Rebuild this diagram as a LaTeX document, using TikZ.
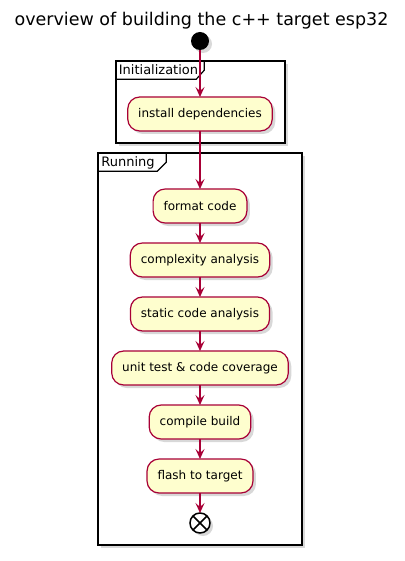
\documentclass[tikz,border=0pt]{standalone}
\usepackage{fontspec}
\setmainfont{DejaVu Sans}
\usetikzlibrary{arrows.meta, shadows, calc, positioning}
\definecolor{umlred}{HTML}{A80036}
\definecolor{umlfill}{HTML}{FEFECE}
\tikzset{> = { Stealth[length = 10pt, width = 9pt, inset = 4pt] }}
\tikzset{umlshadow/.style = { drop shadow = {shadow xshift=3pt,shadow yshift=-3pt,opacity=0.3} }}

\begin{document}
\begin{tikzpicture}[x = 1pt, y = -1pt, ->, draw = umlred, line width = 1.2pt, activity/.style = { draw = umlred, fill = umlfill, line width = 1.2pt, outer sep = 0pt, rounded corners = 12pt, minimum height = 34pt, inner xsep = 10.5pt, font = \fontsize{12}{14}\selectfont, umlshadow }, partition/.style = { draw = black, fill = white, line width = 1.5pt, inner sep = 0pt, umlshadow }, tab/.style = { -, draw = black, line width = 1.2pt }, tabname/.style = { anchor = base west, inner sep = 0pt, font = \fontsize{13}{15}\selectfont }]
				\useasboundingbox (0,0) rectangle (404,561);

				\node [anchor = base, font = \fontsize{17.5}{20}\selectfont] (title) at (201.5,26) {overview of building the c++ target esp32};

				\node [partition, minimum width = 169pt, minimum height = 82pt] (init) at (200.5,102) {};
				\node [partition, minimum width = 204pt, minimum height = 392pt] (run) at (200,349) {};
				\node [tabname] (initname) at ($(init.north west) + (3,14)$) {Initialization};
				\node [tabname] (runname) at ($(run.north west) + (3.5,14)$) {Running};
				\draw [tab] ($(init.north west) + (0,19)$) -- ++(81,0) -- ++(8,-9) -- ++(0,-10);
				\draw [tab] ($(run.north west) + (0,19)$) -- ++(60,0) -- ++(9,-9) -- ++(0,-10);

				\node [circle, fill = black, minimum size = 18pt, inner sep = 0pt, outer sep = 0pt, umlshadow] (start) at (200,41) {};
				\node [activity, below = 47pt of start] (install) {install dependencies};
				\node [activity, below = 58pt of install] (format) {format code};
				\node [activity, below = 20pt of format] (complexity) {complexity analysis};
				\node [activity, below = 20pt of complexity] (static) {static code analysis};
				\node [activity, below = 20pt of static] (unittest) {unit test \& code coverage};
				\node [activity, below = 20pt of unittest] (compile) {compile build};
				\node [activity, below = 20pt of compile] (flash) {flash to target};
				\node [circle, draw = black, fill = white, line width = 1.5pt, minimum size = 20pt, inner sep = 0pt, outer sep = 0pt, below = 20pt of flash, umlshadow] (stop) {};
				\draw [-, black, line width = 1.5pt] (stop.north west) -- (stop.south east);
				\draw [-, black, line width = 1.5pt] (stop.north east) -- (stop.south west);

				\draw (start) -- (install);
				\draw (install) -- (format);
				\draw (format) -- (complexity);
				\draw (complexity) -- (static);
				\draw (static) -- (unittest);
				\draw (unittest) -- (compile);
				\draw (compile) -- (flash);
				\draw (flash) -- (stop);
			\end{tikzpicture}
\end{document}
